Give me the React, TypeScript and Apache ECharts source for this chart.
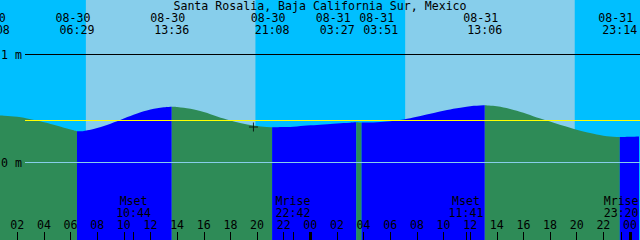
import React, { useEffect, useRef } from "react";
import * as echarts from "echarts";

const TITLE = "Santa Rosalia, Baja California Sur, Mexico";

// Tide curve: hours since 08-30 00:00 and level in metres
const curveHours = [0, 0.133, 1, 2, 3, 4, 5, 6, 6.483, 7, 8, 9, 10, 11, 12, 13, 13.6, 14, 15, 16, 17, 18, 19, 20, 21, 21.133, 22, 23, 24, 25, 26, 27, 27.45, 27.85, 28, 29, 30, 31, 32, 33, 34, 35, 36, 37, 37.1, 38, 39, 40, 41, 42, 43, 44, 45, 46, 47, 47.233, 48, 49];
const curveLevels = [0.437, 0.438, 0.432, 0.421, 0.398, 0.371, 0.339, 0.303, 0.287, 0.291, 0.318, 0.358, 0.406, 0.452, 0.488, 0.509, 0.515, 0.513, 0.495, 0.466, 0.424, 0.387, 0.356, 0.336, 0.325, 0.324, 0.326, 0.332, 0.342, 0.351, 0.36, 0.367, 0.37, 0.367, 0.368, 0.371, 0.38, 0.396, 0.421, 0.449, 0.477, 0.5, 0.519, 0.528, 0.529, 0.519, 0.494, 0.458, 0.415, 0.378, 0.338, 0.302, 0.271, 0.247, 0.235, 0.234, 0.236, 0.241];

// Tide events (top labels)
const tideHours = [0.133, 6.483, 13.6, 21.133, 27.45, 27.85, 37.1, 47.233];
const tideKinds = ["H", "L", "H", "L", "H", "L", "H", "L"];
const tideDates = ["08-30", "08-30", "08-30", "08-30", "08-31", "08-31", "08-31", "08-31"];
const tideTimes = ["00:08", "06:29", "13:36", "21:08", "03:27", "03:51", "13:06", "23:14"];

// Daylight intervals (hours)
const dayStarts = [7.15, 31.12];
const dayEnds = [19.88, 43.85];

// Moon events
const moonHours = [10.733, 22.7, 35.683, 47.333];
const moonNames = ["Mset", "Mrise", "Mset", "Mrise"];
const moonTimes = ["10:44", "22:42", "11:41", "23:20"];

// Axis ticks / labels
const tickHours = [2, 4, 6, 8, 10, 12, 14, 16, 18, 20, 22, 24, 26, 28, 30, 32, 34, 36, 38, 40, 42, 44, 46, 48];
const tickLabels = ["02", "04", "06", "08", "10", "12", "14", "16", "18", "20", "22", "00", "02", "04", "06", "08", "10", "12", "14", "16", "18", "20", "22", "00"];
const midnightHours = [24, 48];

// Reference levels (m)
const meanLevel = 0.389;
const gridLevels = [1, 0];
const gridLabels = ["1 m", "0 m"];

// Current-time marker
const nowHour = 19.73;
const nowLevel = 0.327;

const X_MIN = 0.704;
const X_MAX = 48.644;
const Y_MIN = -0.7194;
const Y_MAX = 1.5028;

const FONT_FAMILY = "DejaVu Sans Mono";
const FONT_SIZE = 11.6;
const LINE_H = 11;
const NIGHT = "#00BFFF";
const DAY = "#87CEEB";
const RISING = "#0000FF";
const FALLING = "#2E8B57";

export default function App() {
  const ref = useRef<HTMLDivElement>(null);
  useEffect(() => {
    const el = ref.current!;
    const chart = echarts.init(el, null, { renderer: "svg", width: 640, height: 240 });

    // Build tide fill segments (rising blue, falling green)
    const bounds = [-Infinity, ...tideHours, Infinity];
    const segSeries: any[] = [];
    for (let i = 0; i < bounds.length - 1; i++) {
      const a = bounds[i];
      const b = bounds[i + 1];
      const pts: number[][] = [];
      curveHours.forEach((h, k) => {
        if (h >= a && h <= b) pts.push([h, curveLevels[k]]);
      });
      if (pts.length < 2) continue;
      let rising: boolean;
      if (i === 0) rising = tideKinds[0] === "H";
      else rising = tideKinds[i - 1] === "L";
      segSeries.push({
        type: "line",
        data: pts,
        smooth: 0.4,
        symbol: "none",
        z: 2,
        lineStyle: { width: 0, opacity: 0 },
        areaStyle: { color: rising ? RISING : FALLING, opacity: 1, origin: "start" },
        silent: true,
      });
    }

    const option: any = {
      animation: false,
      backgroundColor: NIGHT,
      grid: { left: 0, right: 0, top: 0, bottom: 0, containLabel: false },
      xAxis: [
        {
          type: "value",
          min: X_MIN,
          max: X_MAX,
          position: "bottom",
          axisLine: { show: false, onZero: false },
          splitLine: { show: false },
          axisTick: {
            show: true,
            inside: true,
            length: 8,
            lineStyle: { color: "#000", width: 1 },
            customValues: [...tickHours, ...moonHours],
          },
          axisLabel: {
            show: true,
            inside: true,
            margin: 9.3,
            color: "#000",
            fontFamily: FONT_FAMILY,
            fontSize: FONT_SIZE,
            lineHeight: LINE_H,
            customValues: tickHours,
            formatter: (v: number) => {
              const i = tickHours.indexOf(Math.round(v));
              return i >= 0 ? tickLabels[i] : "";
            },
          },
          z: 8,
        },
        {
          type: "value",
          min: X_MIN,
          max: X_MAX,
          position: "bottom",
          axisLine: { show: false, onZero: false },
          splitLine: { show: false },
          axisTick: {
            show: true,
            inside: true,
            length: 8,
            lineStyle: { color: "#000", width: 3 },
            customValues: midnightHours,
          },
          axisLabel: { show: false },
          z: 8,
        },
      ],
      yAxis: { type: "value", min: Y_MIN, max: Y_MAX, show: false },
      series: [
        {
          type: "line",
          data: [[X_MIN, Y_MIN]],
          symbol: "none",
          lineStyle: { opacity: 0 },
          z: 1,
          silent: true,
          markArea: {
            silent: true,
            itemStyle: { color: DAY, opacity: 1 },
            data: dayStarts.map((s, i) => [{ xAxis: s }, { xAxis: dayEnds[i] }]),
          },
        },
        ...segSeries,
        {
          type: "scatter",
          data: [[nowHour, nowLevel]],
          symbol: "path://M4,0h1v9h-1zM0,4h9v1h-9z",
          symbolSize: 9,
          itemStyle: { color: "#000" },
          z: 6,
          silent: true,
        },
      ],
    };
    chart.setOption(option);

    const px = (h: number) => chart.convertToPixel({ xAxisIndex: 0 }, h) as number;
    const py = (v: number) => chart.convertToPixel({ yAxisIndex: 0 }, v) as number;
    const font = `${FONT_SIZE}px "${FONT_FAMILY}"`;
    const txt = (text: string, x: number, y: number, align = "center") => ({
      type: "text",
      x,
      y,
      z: 20,
      silent: true,
      style: {
        text,
        font,
        lineHeight: LINE_H,
        fill: "#000",
        align,
        verticalAlign: "middle",
        textAlign: align,
        textVerticalAlign: "middle",
      },
    });
    const els: any[] = [];
    const lineColors = ["#000000", DAY];
    gridLevels.forEach((lv, i) => {
      const y = Math.floor(py(lv)) + 0.5;
      els.push({ type: "line", z: 15, silent: true, shape: { x1: 25, y1: y, x2: 640, y2: y }, style: { stroke: lineColors[i], lineWidth: 1 } });
      els.push(txt(gridLabels[i], 1, y, "left"));
    });
    const ym = Math.floor(py(meanLevel)) + 0.5;
    els.push({ type: "line", z: 15, silent: true, shape: { x1: 25, y1: ym, x2: 640, y2: ym }, style: { stroke: "#FFFF00", lineWidth: 1 } });

    els.push(txt(TITLE, 320, 5.5));
    const MIN_SEP = 43.5;
    const xs = tideHours.map(px);
    for (let i = 0; i < xs.length - 1; i++) {
      if (xs[i + 1] - xs[i] < MIN_SEP) {
        const mid = (xs[i] + xs[i + 1]) / 2;
        xs[i] = mid - MIN_SEP / 2;
        xs[i + 1] = mid + MIN_SEP / 2;
      }
    }
    xs.forEach((x, i) => {
      els.push(txt(tideDates[i], x - 4, 17.5));
      els.push(txt(tideTimes[i], x, 29.5));
    });
    moonHours.forEach((h, i) => {
      let x = px(h);
      const w = 35;
      x = Math.min(640 - w / 2, Math.max(w / 2, x));
      els.push(txt(moonNames[i], x, 200.6));
      els.push(txt(moonTimes[i], x, 213));
    });
    chart.setOption({ graphic: { elements: els } });

    return () => chart.dispose();
  }, []);
  return <div ref={ref} style={{ position: "fixed", left: 0, top: 0, width: 640, height: 240 }} />;
}
